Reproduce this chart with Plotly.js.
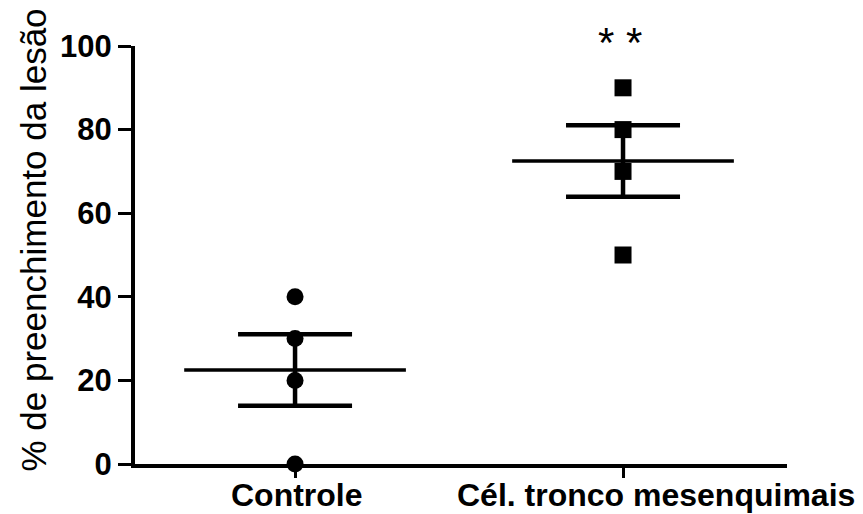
<!DOCTYPE html>
<html>
<head>
<meta charset="utf-8">
<script src="https://cdn.plot.ly/plotly-3.0.1.min.js"></script>
<style>html,body{margin:0;padding:0;background:#fff;}#chart{width:863px;height:514px;}</style>
</head>
<body>
<div id="chart"></div>
<script>
const categories = ["Controle", "Cél. tronco mesenquimais"];
const controleValues = [0, 20, 30, 40];
const celulasValues = [50, 70, 80, 90];
const yTickVals = [0, 20, 40, 60, 80, 100];
const yTitle = "% de preenchimento da lesão";
const significance = "* *";

const groups = [controleValues, celulasValues];
const symbols = ["circle", "square"];
function mean(a){return a.reduce((s,v)=>s+v,0)/a.length;}
function sem(a){const m=mean(a);const v=a.reduce((s,x)=>s+(x-m)*(x-m),0)/(a.length-1);return Math.sqrt(v/a.length);}
const means = groups.map(mean);
const sems = groups.map(sem);

const traces = [];
groups.forEach((g,i)=>{
  traces.push({
    type:"scatter", mode:"markers", x:g.map(()=>i), y:g,
    marker:{symbol:symbols[i], size:17, color:"#000"},
    cliponaxis:false, showlegend:false, hoverinfo:"skip"
  });
  traces.push({
    type:"scatter", mode:"lines", x:[i-0.338, i+0.338], y:[means[i], means[i]],
    line:{color:"#000", width:3.5}, cliponaxis:false, showlegend:false, hoverinfo:"skip"
  });
});
traces.push({
  type:"scatter", mode:"markers", x:categories.map((c,i)=>i), y:means,
  marker:{size:1, color:"rgba(0,0,0,0)"},
  error_y:{type:"data", array:sems, visible:true, width:57, thickness:4.5, color:"#000"},
  cliponaxis:false, showlegend:false, hoverinfo:"skip"
});

const lab = {family:"Liberation Sans, Arial, sans-serif", size:32, color:"#000", weight:"bold"};
const annotations = [
  {text:categories[0], x:0, xref:"x", y:0, yref:"paper", yshift:-31, xshift:2, yanchor:"middle", showarrow:false, font:lab},
  {text:categories[1], x:1, xref:"x", y:0, yref:"paper", yshift:-31, xshift:33, yanchor:"middle", showarrow:false, font:lab},
  {text:yTitle, textangle:-90, x:0, xref:"paper", xshift:-124, y:0.5, yref:"paper", yshift:15, showarrow:false,
   font:{family:"Liberation Sans, Arial, sans-serif", size:35, color:"#000"}},
  {text:significance, x:1, xref:"x", y:100, yref:"y", yshift:-22, xshift:-3, yanchor:"bottom", showarrow:false,
   font:{family:"Liberation Sans, Arial, sans-serif", size:42, color:"#000"}}
];

const layout = {
  width:863, height:514,
  margin:{l:135, r:76, t:46, b:50},
  paper_bgcolor:"#fff", plot_bgcolor:"#fff",
  showlegend:false,
  xaxis:{range:[-0.488, 1.5], showgrid:false, zeroline:false, showline:true, linewidth:4, linecolor:"#000",
         tickvals:[0,1], showticklabels:false, ticks:"outside", ticklen:10, tickwidth:3, tickcolor:"#000"},
  yaxis:{range:[0,100], showgrid:false, zeroline:false, showline:true, linewidth:4, linecolor:"#000",
         tickvals:yTickVals, ticks:"outside", ticklen:13, tickwidth:3, tickcolor:"#000",
         tickfont:{family:"Liberation Sans, Arial, sans-serif", size:31, color:"#000", weight:"bold"}},
  annotations:annotations
};
Plotly.newPlot("chart", traces, layout, {staticPlot:true, displayModeBar:false});
</script>
</body>
</html>
